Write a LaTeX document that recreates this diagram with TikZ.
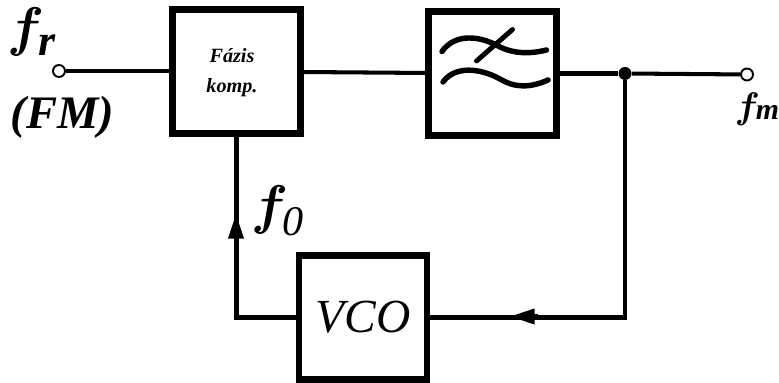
\documentclass[tikz,border=0pt]{standalone}
\usepackage{fix-cm}
\usepackage{fontspec}
\setmainfont{Liberation Serif}
\usetikzlibrary{arrows.meta, positioning}

\newcommand{\lowidx}[2]{{\usefont{OML}{cmm}{b}{it}f}\raisebox{#1}{#2}}

\begin{document}
\begin{tikzpicture}[
    block/.style = {draw, rectangle, line width=3.9pt, minimum width=2.56cm,
                    minimum height=2.48cm, inner sep=0pt, align=center},
    wire/.style  = {line width=2.3pt},
    wave/.style  = {line width=3.1pt, line cap=round},
    tipa/.style  = {-{Triangle[length=14pt, width=8.5pt]}, line width=2.3pt},
    port/.style  = {draw, circle, fill=white, line width=1.1pt,
                    minimum size=0.24cm, inner sep=0pt},
    dot/.style   = {circle, fill=black, minimum size=0.26cm, inner sep=0pt},
    label/.style = {inner sep=0pt, font=\bfseries\itshape}
  ]
    \useasboundingbox (0, 0) rectangle (15.58, 7.66);

    \node[block] (fazis)  at (4.73, 6.23) {};
    \node[block] (filter) at (9.85, 6.19) {};
    \node[block] (vco)    at (7.26, 1.31)
          {\fontsize{27}{27}\selectfont\itshape VCO};
    \node[label, font=\fontsize{11.5}{16}\selectfont\bfseries\itshape, align=center]
          (fazistext) at (4.64, 6.21) {Fázis\\[1pt]komp.};

    \node[port] (in)  at (1.18, 6.24) {};
    \node[port] (out) at (14.94, 6.17) {};
    \node[dot]  (junction) at (12.5, 6.19) {};

    \node[label, font=\fontsize{31}{31}\selectfont\bfseries\itshape]
          (fr) at (0.64, 7.03) {\lowidx{-6pt}{\fontsize{25}{25}\selectfont r}};
    \node[label, font=\fontsize{26.5}{26.5}\selectfont\bfseries\itshape]
          (fm) at (1.25, 5.32) {(FM)};
    \node[label, font=\fontsize{21}{21}\selectfont\bfseries\itshape]
          (fmout) at (15.14, 5.48) {\lowidx{-1pt}{\fontsize{17}{17}\selectfont m}};
    \node[label, font=\fontsize{31}{31}\selectfont\bfseries\itshape]
          (f0) at (5.55, 3.44) {\lowidx{-7pt}{\fontsize{24}{24}\selectfont\mdseries 0}};

    % feedback arrowheads
    \coordinate (upbase)   at (4.72, 2.88);
    \coordinate (uptip)    at (4.72, 3.38);
    \coordinate (leftbase) at (10.76, 1.33);
    \coordinate (lefttip)  at (10.2, 1.33);

    \draw[wire] (in) -- (fazis.west |- in);
    \draw[wire] (fazis) -- (filter);
    \draw[wire] (filter.east) -- (junction);
    \draw[wire] (junction) -- (out);
    \draw[wire] (junction) |- (vco.east);
    \draw[wire] (vco.west) -| (fazis.south);
    \draw[tipa] (upbase) -- (uptip);
    \draw[tipa] (leftbase) -- (lefttip);

    % filter symbol
    \draw[wave] (8.84, 6.63) .. controls (9.1, 7.0) and (9.6, 6.95)
                .. (10.0, 6.72) .. controls (10.3, 6.58) and (10.6, 6.58) .. (10.93, 6.66);
    \draw[wave] (8.86, 6.02) .. controls (9.1, 6.35) and (9.6, 6.3)
                .. (10.0, 6.08) .. controls (10.3, 5.9) and (10.6, 5.9) .. (10.96, 6.06);
    \draw[wave, line width=2.8pt] (9.53, 6.44) -- (10.25, 7.07);
\end{tikzpicture}
\end{document}
